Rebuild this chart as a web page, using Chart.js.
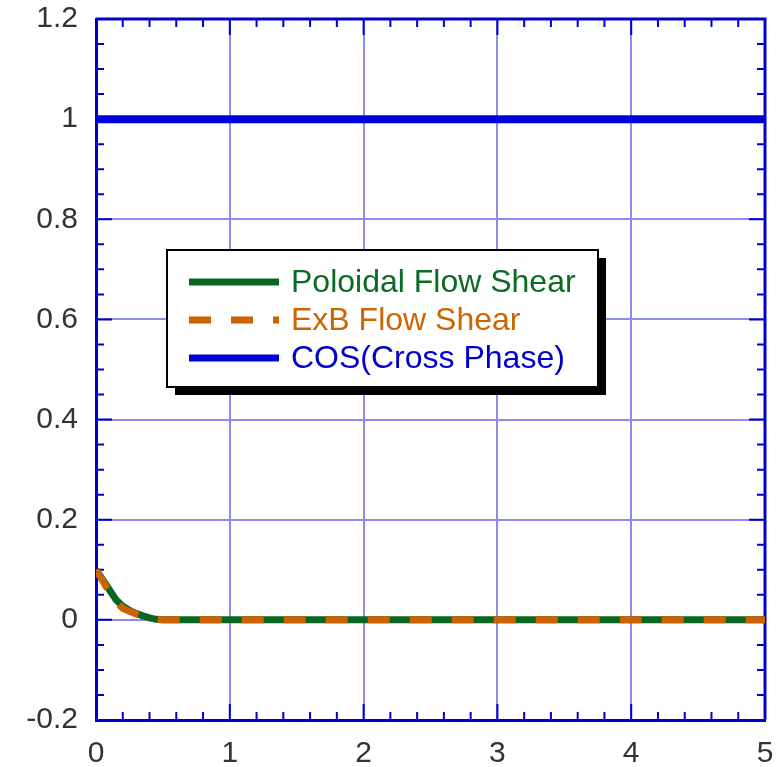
<!DOCTYPE html>
<html>
<head>
<meta charset="utf-8">
<script src="https://cdn.jsdelivr.net/npm/chart.js@4"></script>
<style>
  html, body { margin: 0; padding: 0; background: #fff; }
  #wrap { width: 780px; height: 767px; }
</style>
</head>
<body>
<div id="wrap"><canvas id="chart" width="780" height="767"></canvas></div>
<script>
// values
const shearX = [0, 0.05, 0.1, 0.15, 0.2, 0.25, 0.3, 0.35, 0.4, 0.45, 0.5, 1, 2, 3, 4, 5];
const poloidalShear = [0.1, 0.08, 0.06, 0.04, 0.027, 0.019, 0.013, 0.008, 0.004, 0.001, 0, 0, 0, 0, 0, 0];
const exbShear = [0.1, 0.078, 0.055, 0.036, 0.023, 0.017, 0.012, 0.008, 0.004, 0.001, 0, 0, 0, 0, 0, 0];
const cosX = [0, 5];
const cosPhase = [1, 1];

const xTicks = [0, 1, 2, 3, 4, 5];
const yTicks = [-0.2, 0, 0.2, 0.4, 0.6, 0.8, 1, 1.2];
const xMinorStep = 0.2;
const yMinorStep = 0.05;

const FONT = '"Liberation Sans", Arial, sans-serif';
const AXIS_BLUE = '#0000cc';

const pts = (xs, ys) => xs.map((x, i) => ({ x: x, y: ys[i] }));
const fmt = v => String(+Number(v).toFixed(2));

// inward ticks on all four sides + top/right frame
const frameTicks = {
    id: 'frameTicks',
    beforeDatasetsDraw(chart) {
        const { ctx, chartArea: a, scales: { x, y } } = chart;
        ctx.save();
        ctx.strokeStyle = AXIS_BLUE;
        ctx.lineWidth = 2;
        ctx.beginPath();
        for (let v = 0; v <= 5.0001; v += xMinorStep) {
            const px = x.getPixelForValue(v);
            const major = Math.abs(v - Math.round(v)) < 1e-6;
            const len = major ? 16 : 8;
            ctx.moveTo(px, a.bottom); ctx.lineTo(px, a.bottom - len);
            ctx.moveTo(px, a.top); ctx.lineTo(px, a.top + len);
        }
        for (let v = -0.2; v <= 1.2001; v += yMinorStep) {
            const py = y.getPixelForValue(v);
            const major = Math.abs(v * 5 - Math.round(v * 5)) < 1e-6;
            const len = major ? 16 : 8;
            ctx.moveTo(a.left, py); ctx.lineTo(a.left + len, py);
            ctx.moveTo(a.right, py); ctx.lineTo(a.right - len, py);
        }
        ctx.stroke();
        ctx.lineWidth = 3;
        ctx.beginPath();
        ctx.moveTo(a.left, a.top); ctx.lineTo(a.right, a.top); ctx.lineTo(a.right, a.bottom);
        ctx.stroke();
        ctx.restore();
    }
};

// boxed legend with drop shadow
const boxLegend = {
    id: 'boxLegend',
    afterDraw(chart) {
        const ctx = chart.ctx;
        const bx = 167, by = 250, bw = 431, bh = 137;
        ctx.save();
        ctx.fillStyle = '#000';
        ctx.fillRect(bx + 8, by + 8, bw, bh);
        ctx.fillStyle = '#fff';
        ctx.fillRect(bx, by, bw, bh);
        ctx.strokeStyle = '#000';
        ctx.lineWidth = 2;
        ctx.strokeRect(bx, by, bw, bh);
        ctx.font = '32px ' + FONT;
        ctx.textBaseline = 'middle';
        chart.data.datasets.forEach((ds, i) => {
            const ly = by + 32 + i * 38;
            ctx.strokeStyle = ds.borderColor;
            ctx.lineWidth = 7;
            ctx.setLineDash(ds.borderDash || []);
            ctx.beginPath();
            ctx.moveTo(189, ly); ctx.lineTo(279, ly);
            ctx.stroke();
            ctx.setLineDash([]);
            ctx.fillStyle = ds.textColor;
            ctx.fillText(ds.label, 291, ly + 1);
        });
        ctx.restore();
    }
};

new Chart(document.getElementById('chart'), {
    type: 'line',
    data: {
        datasets: [
            {
                label: 'Poloidal Flow Shear',
                data: pts(shearX, poloidalShear),
                borderColor: '#0b6622',
                textColor: '#0b6b22',
                borderWidth: 7,
                pointRadius: 0,
                order: 2
            },
            {
                label: 'ExB Flow Shear',
                data: pts(shearX, exbShear),
                borderColor: '#cc6200',
                textColor: '#cc6600',
                borderWidth: 7,
                borderDash: [22, 20],
                pointRadius: 0,
                order: 1
            },
            {
                label: 'COS(Cross Phase)',
                data: pts(cosX, cosPhase),
                borderColor: '#0000dd',
                textColor: '#0000cc',
                borderWidth: 8,
                pointRadius: 0,
                order: 3
            }
        ]
    },
    options: {
        responsive: false,
        animation: false,
        layout: { padding: { top: 19, right: 15, left: 0, bottom: 0 } },
        plugins: { legend: { display: false }, tooltip: { enabled: false } },
        scales: {
            x: {
                type: 'linear',
                min: 0,
                max: 5,
                afterBuildTicks: s => { s.ticks = xTicks.map(v => ({ value: v })); },
                afterFit: s => { s.height = 47; s.paddingLeft = 0; s.paddingRight = 0; },
                ticks: { font: { size: 30, family: FONT }, color: '#333', padding: 16, maxRotation: 0, callback: fmt },
                grid: { color: '#8c8cf0', lineWidth: 2, drawTicks: false },
                border: { color: AXIS_BLUE, width: 3 }
            },
            y: {
                min: -0.2,
                max: 1.2,
                afterBuildTicks: s => { s.ticks = yTicks.map(v => ({ value: v })); },
                afterFit: s => { s.width = 96; s.paddingTop = 0; s.paddingBottom = 0; },
                ticks: { font: { size: 30, family: FONT }, color: '#333', padding: 18, callback: fmt },
                grid: { color: '#8c8cf0', lineWidth: 2, drawTicks: false },
                border: { color: AXIS_BLUE, width: 3 }
            }
        }
    },
    plugins: [frameTicks, boxLegend]
});
</script>
</body>
</html>
